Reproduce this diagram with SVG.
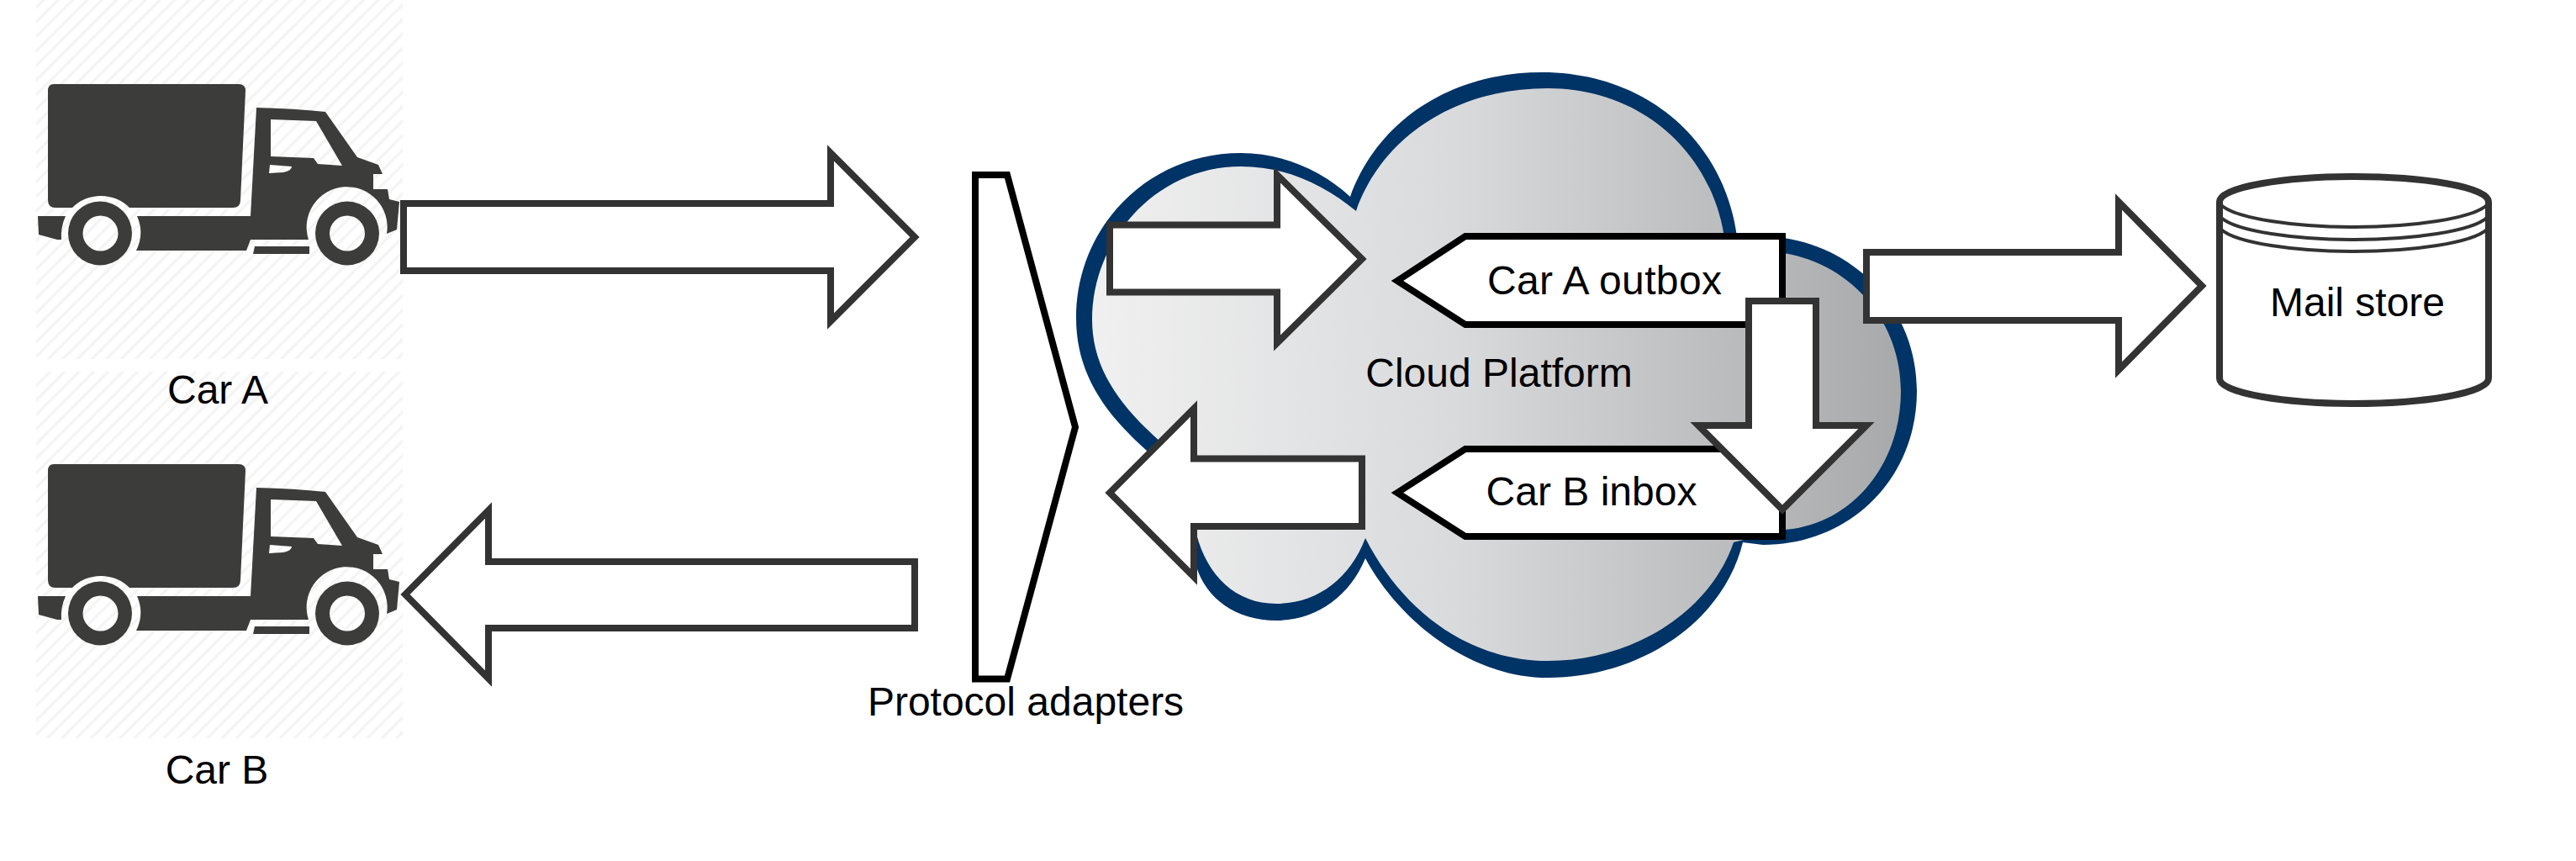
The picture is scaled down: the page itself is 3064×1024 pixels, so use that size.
<svg xmlns="http://www.w3.org/2000/svg" width="3064" height="1024" viewBox="0 0 3064 1024">
<style>
text{font-family:"Liberation Sans",Arial,sans-serif;font-size:48px;fill:#000}
.arrow{fill:#fff;stroke:#333;stroke-width:8;stroke-miterlimit:10}
.box{fill:#fff;stroke:#000;stroke-width:8;stroke-miterlimit:10}
.thin{fill:none;stroke:#333;stroke-width:4}
.truck{fill:#3c3c3b;fill-rule:evenodd}
</style>
<defs>
<pattern id="hatch" width="17.300" height="17.300" patternUnits="userSpaceOnUse">
<path d="M-2,2 L2,-2 M0,17.300 L17.300,0 M15.300,19.300 L19.300,15.300" stroke="#f4f4f4" stroke-width="3.500" fill="none"/>
</pattern>
<linearGradient id="cloudFill" x1="0" y1="0" x2="1" y2="0">
<stop offset="0" stop-color="#f0f0f0"/><stop offset="0.45" stop-color="#d9dadc"/><stop offset="1" stop-color="#a8a9ab"/>
</linearGradient>
<g id="truck">
<path class="truck" d="M64,100 H284 Q292,100 292,108 L286,238 Q286,247 277,247 H154 A48,48 0 0 0 86,247 H66 Q57,247 57,238 V108 Q57,100 64,100 Z"/>
<path class="truck" d="M45,257 H78 Q72,270 73,285 H68 L46,279 Z"/>
<path class="truck" d="M163,257 H298 L305,128 Q350,129 387,133 L425,187 L450,196 L455,207 H444 V225 H461 L463,237 L475,240 L472,273 L460,278 A48,48 0 1 0 367,285 H298 L293,298 H162 A48,48 0 0 0 163,257 Z M322,142 L376,144 L407,197 L378,195 L373,188 L322,186 Z M321,196 L347,198 Q347,203 337,205 L320,206 Z"/>
<path class="truck" d="M303,293 H368 V302 H301 Z"/>
<path class="truck" d="M157,277.500 A38,38 0 1 0 81,277.500 A38,38 0 1 0 157,277.500 Z M140.500,277.500 A21,21 0 1 1 98.500,277.500 A21,21 0 1 1 140.500,277.500 Z"/>
<path class="truck" d="M451,277.500 A38,38 0 1 0 375,277.500 A38,38 0 1 0 451,277.500 Z M434,277.500 A21,21 0 1 1 392,277.500 A21,21 0 1 1 434,277.500 Z"/>
</g>
</defs>
<rect width="3064" height="1024" fill="#fff"/>
<rect x="43" y="0" width="436" height="427" fill="url(#hatch)"/>
<rect x="43" y="442" width="436" height="436" fill="url(#hatch)"/>
<g id="car-a"><use href="#truck"/><text x="259" y="480" text-anchor="middle">Car A</text></g>
<g id="car-b"><use href="#truck" y="452"/><text x="258" y="932" text-anchor="middle">Car B</text></g>
<g id="cloud">
<path fill="#003366" d="M1606,234 C1640,140 1730,86 1834,86 C1960,86 2055,170 2067,290 L2110,290 L2122,283 C2210,296 2280,370 2280,465 C2280,570 2200,648 2097,648 L2073,645 C2050,740 1950,806 1841,806 C1750,806 1665,740 1624,664 C1605,710 1565,738 1518,738 C1470,738 1435,712 1423,674 L1400,565 C1320,505 1280,450 1280,378 C1280,270 1365,182 1476,182 C1525,182 1572,202 1606,234 Z"/>
<path fill="url(#cloudFill)" d="M1613,251 C1645,160 1735,105 1841,105 C1955,105 2040,185 2052,290 L2110,300 L2122,301 C2205,315 2261,385 2261,465 C2261,555 2200,625 2122,630 L2062,645 C2035,725 1945,786 1841,786 C1750,786 1670,730 1624,640 C1605,690 1565,718 1518,718 C1470,718 1436,685 1423,635 L1410,550 C1340,495 1299,445 1299,380 C1299,285 1375,198 1476,198 C1530,198 1575,220 1613,251 Z"/>
<text x="1783" y="460" text-anchor="middle">Cloud Platform</text>
</g>
<g id="car-a-outbox"><path class="box" d="M1662,334 L1743,281 H2120 V386 H1743 Z"/><text x="1769" y="350" textLength="279" lengthAdjust="spacing">Car A outbox</text></g>
<g id="car-b-inbox"><path class="box" d="M1662,586 L1743,534 H2120 V638 H1743 Z"/><text x="1893" y="601" text-anchor="middle">Car B inbox</text></g>
<g id="protocol-adapters"><path class="box" d="M1160,208 H1198 L1279,508 L1198,807.500 H1160 Z"/><text x="1220" y="851" text-anchor="middle">Protocol adapters</text></g>
<g id="mail-store">
<path d="M2640,240 C2640,222 2720,210 2800,210 C2880,210 2960,222 2960,240 V450 C2960,468 2880,480 2800,480 C2720,480 2640,468 2640,450 Z" fill="#fff" stroke="#333" stroke-width="8"/>
<path class="thin" d="M2642,244 C2660,260 2730,270 2800,270 C2870,270 2940,260 2958,244"/>
<path class="thin" d="M2642,259 C2660,275 2730,285 2800,285 C2870,285 2940,275 2958,259"/>
<path class="thin" d="M2642,273 C2660,289 2730,299 2800,299 C2870,299 2940,289 2958,273"/>
<text x="2804" y="376" text-anchor="middle">Mail store</text>
</g>
<g id="connectors">
<path class="arrow" d="M480,242 H988 V182 L1088,282 L988,382 V322 H480 Z"/>
<path class="arrow" d="M1088,668 H581 V607 L482,707 L581,807 V747 H1088 Z"/>
<path class="arrow" d="M1320,267.500 H1519 V208 L1620,308 L1519,408 V347.500 H1320 Z"/>
<path class="arrow" d="M1320,586 L1420,486 V545.500 H1620 V626 H1420 V686 Z"/>
<path class="arrow" d="M2080,358 H2160 V506 H2220 L2120,606 L2020,506 H2080 Z"/>
<path class="arrow" d="M2220,300 H2520 V240 L2619,340 L2520,440 V381 H2220 Z"/>
</g>
</svg>
